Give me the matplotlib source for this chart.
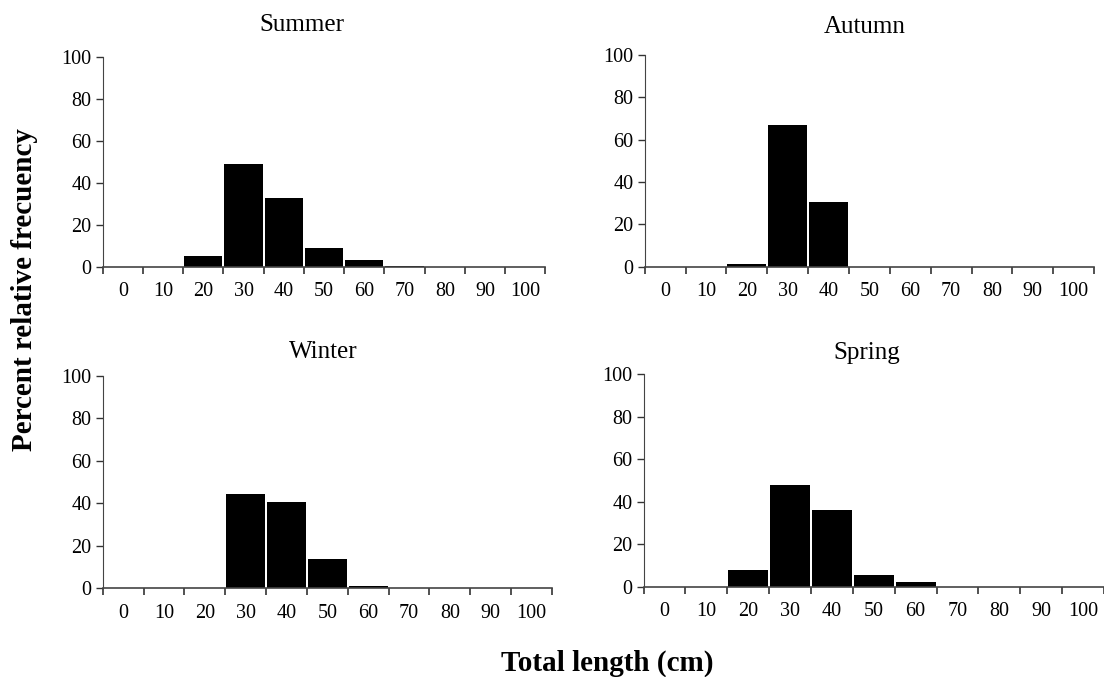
import numpy as np
import matplotlib
matplotlib.use("Agg")
import matplotlib.pyplot as plt

plt.rcParams['font.family'] = ['Liberation Serif', 'DejaVu Serif']

lengths = [0, 10, 20, 30, 40, 50, 60, 70, 80, 90, 100]
summer = [0, 0, 5.2, 48.8, 32.9, 8.7, 3.3, 0.5, 0, 0, 0]
autumn = [0, 0, 1.3, 66.8, 30.6, 0, 0, 0, 0, 0, 0]
winter = [0, 0, 0, 44.2, 40.7, 13.6, 0.9, 0, 0, 0, 0]
spring = [0, 0, 8.0, 47.8, 36.2, 5.5, 2.4, 0, 0, 0, 0]

# title, values, axes rect, title position (axes coords)
panels = [
    ("Summer", summer, [0.093, 0.606, 0.401, 0.310], (0.45, 1.15)),
    ("Autumn", autumn, [0.584, 0.606, 0.407, 0.313], (0.49, 1.13)),
    ("Winter", winter, [0.093, 0.131, 0.407, 0.314], (0.49, 1.11)),
    ("Spring", spring, [0.583, 0.133, 0.417, 0.314], (0.484, 1.10)),
]

fig = plt.figure(figsize=(11.04, 6.77), dpi=100)

for title, vals, rect, tpos in panels:
    ax = fig.add_axes(rect)
    x = np.arange(len(lengths))
    ax.bar(x, vals, width=0.95, color='black', linewidth=0)
    ax.set_xlim(-0.5, len(lengths) - 0.5)
    ax.set_ylim(0, 100)
    ax.set_yticks([0, 20, 40, 60, 80, 100])
    ax.set_xticks(x)
    ax.set_xticklabels([str(v) for v in lengths])
    ax.set_xticks(np.arange(len(lengths) + 1) - 0.5, minor=True)
    ax.tick_params(axis='x', which='major', length=0, pad=11, labelsize=14.5)
    ax.tick_params(axis='x', which='minor', length=5, width=1.2, direction='out', color='#333333')
    ax.tick_params(axis='y', length=5, width=1.0, labelsize=14.5, pad=3, color='#333333')
    for s in ['top', 'right']:
        ax.spines[s].set_visible(False)
    ax.spines['left'].set_color('#444444')
    ax.spines['bottom'].set_color('#444444')
    ax.spines['bottom'].set_linewidth(1.2)
    ax.text(tpos[0], tpos[1], title, transform=ax.transAxes, ha='center', va='center',
            fontsize=18)

fig.text(0.022, 0.572, "Percent relative frecuency", rotation=90, ha='center', va='center',
         fontsize=21, fontweight='bold')
fig.text(0.55, 0.02, "Total length (cm)", ha='center', va='center',
         fontsize=21, fontweight='bold')

fig.savefig("out.png", dpi=100)
